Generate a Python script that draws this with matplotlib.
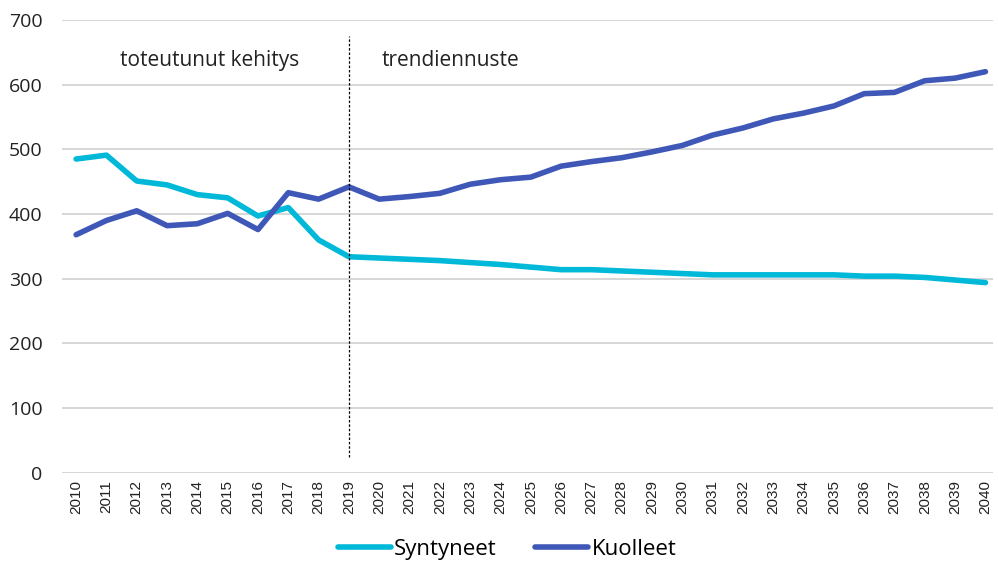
import matplotlib
matplotlib.use("Agg")
import matplotlib.pyplot as plt

plt.rcParams['font.family'] = ['Open Sans', 'DejaVu Sans']

years = list(range(2010, 2041))
syntyneet = [485, 491, 451, 445, 430, 425, 397, 410, 360, 334,
             332, 330, 328, 325, 322, 318, 314, 314, 312, 310,
             308, 306, 306, 306, 306, 306, 304, 304, 302, 298, 294]
kuolleet = [368, 390, 405, 382, 385, 401, 376, 433, 423, 442,
            423, 427, 432, 446, 453, 457, 474, 481, 487, 496,
            506, 522, 533, 547, 556, 567, 586, 588, 606, 610, 620]
yticks = [0, 100, 200, 300, 400, 500, 600, 700]

fig = plt.figure(figsize=(9.98, 5.69), dpi=100)
ax = fig.add_axes([0.062, 0.169, 0.933, 0.796])

x = list(range(len(years)))
ax.plot(x, syntyneet, color='#00B8D8', lw=4, solid_capstyle='round', label='Syntyneet', zorder=3)
ax.plot(x, kuolleet, color='#3F58B8', lw=4, solid_capstyle='round', label='Kuolleet', zorder=3)

ax.set_ylim(0, 700)
ax.set_xlim(-0.47, 30.25)
ax.set_yticks(yticks)
ax.set_yticklabels([str(v) for v in yticks], fontsize=14, color='#222222')
ax.set_xticks(x)
ax.set_xticklabels([str(y) for y in years], rotation=90, fontsize=11,
                   family=['Liberation Sans', 'DejaVu Sans'], color='#222222')
ax.grid(axis='y', color='#D0D0D0', lw=1.2)
ax.set_axisbelow(True)
for s in ax.spines.values():
    s.set_visible(False)
ax.tick_params(axis='both', length=0)
ax.tick_params(axis='y', pad=14)
ax.tick_params(axis='x', pad=5)

ax.vlines(9, 25, 675, colors='black', linestyles=(0, (2, 1.5)), lw=0.9, zorder=4)
ax.text(4.42, 638, 'toteutunut kehitys', fontsize=15, ha='center', va='center', color='#222222')
ax.text(10.09, 638, 'trendiennuste', fontsize=15, ha='left', va='center', color='#222222')

fig.legend(loc='center', bbox_to_anchor=(0.508, 0.035), ncol=2, frameon=False,
           fontsize=16, handlelength=2.4, handletextpad=0.15, columnspacing=1.7)

fig.savefig('out.png', dpi=100)
